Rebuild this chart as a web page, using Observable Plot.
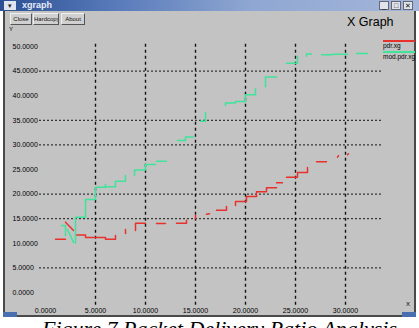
<!DOCTYPE html>
<html>
<head>
<meta charset="utf-8">
<script src="https://cdn.jsdelivr.net/npm/d3@7"></script>
<script src="https://cdn.jsdelivr.net/npm/@observablehq/plot@0.6"></script>
<style>
  html, body { margin:0; padding:0; }
  body { width:419px; height:328px; overflow:hidden; background:#fff; position:relative; font-family:"Liberation Sans", Arial, sans-serif; }
  #win { position:absolute; left:3px; top:0; width:413px; height:317px; background:#c3c3c3; border-left:2px solid #4a4a4a; border-right:2px solid #4a4a4a; border-bottom:2px solid #4a4a4a; box-sizing:border-box; }
  #corner1 { position:absolute; left:3px; top:312px; width:14px; height:5px; background:#4a6fb0; }
  #corner2 { position:absolute; left:402px; top:312px; width:14px; height:5px; background:#4a6fb0; }
  #titlebar { position:absolute; left:0; top:0; width:419px; height:11px; background:linear-gradient(to right,#2c4f93 0%,#5477b8 25%,#8fa7d2 60%,#a4b6da 100%); }
  #titlebar .icon { position:absolute; left:4px; top:1px; width:12px; height:9px; background:#dfe4ef; font-size:7px; line-height:9px; text-align:center; color:#223; }
  #titlebar .name { position:absolute; left:22px; top:0px; font-size:9px; line-height:11px; color:#e8ecf6; font-weight:bold; }
  .wbtn { position:absolute; top:1px; width:10px; height:9px; background:#dfe3ea; border:1px solid #667; box-sizing:border-box; font-size:7px; line-height:7px; text-align:center; color:#111; }
  .btn { position:absolute; top:13px; height:12px; background:#d0d0d0; border-top:1px solid #f0f0f0; border-left:1px solid #f0f0f0; border-right:1px solid #555; border-bottom:1px solid #555; box-sizing:border-box; font-size:6px; line-height:10px; text-align:center; color:#111; overflow:hidden; white-space:nowrap; }
  #gtitle { position:absolute; left:347px; top:15px; font-size:12.5px; color:#000; }
  #ylab { position:absolute; left:9px; top:26px; font-size:6px; color:#000; }
  #xlab { position:absolute; left:406px; top:301px; font-size:6px; color:#000; }
  .leg { position:absolute; left:383px; width:32px; height:1.5px; }
  .legt { position:absolute; left:383px; font-size:6.5px; color:#000; line-height:7px; }
  #caption { position:absolute; left:42px; top:318px; font-family:"Liberation Serif", serif; font-style:italic; font-size:22px; line-height:22px; color:#000; white-space:nowrap; }
  #chart { position:absolute; left:0; top:0; }
</style>
</head>
<body>
<div id="win"></div>
<div id="corner1"></div><div id="corner2"></div>
<div id="titlebar"><div class="icon">▾</div><div class="name">xgraph</div>
  <div class="wbtn" style="left:379px">_</div><div class="wbtn" style="left:391px">□</div><div class="wbtn" style="left:403px">✕</div>
</div>
<div class="btn" style="left:10px;width:22px">Close</div>
<div class="btn" style="left:33px;width:26px">Hardcopy</div>
<div class="btn" style="left:61px;width:24px">About</div>
<div id="gtitle">X Graph</div>
<div id="ylab">Y</div>
<div id="xlab">X</div>
<div id="chart"></div>
<div class="leg" style="top:40px;background:#e8302c"></div>
<div class="legt" id="leg0" style="top:42px"></div>
<div class="leg" style="top:51px;background:#3fe39a"></div>
<div class="legt" id="leg1" style="top:53px"></div>
<div id="caption">Figure 7 Packet Delivery Ratio Analysis</div>
<script>
// ---- data (null = gap in the trace) ----
const seriesNames = ["pdr.xg", "mod.pdr.xg"];
const seriesColors = ["#e8302c", "#3fe39a"];

const pdrX = [1, 2, null, 2, 2.8, null, 3, 4, 4, 6, 6, 7, 7, null, 8, 8, null, 9, 9, 10, null, 11.1, 12, null,
  13.1, 14.1, 14.1, null, 15, 15, null, 16.1, 16.4, null, 17.1, 18.1, 18.1, null,
  19, 19, 20.1, 20.1, 21.1, 21.1, 22.1, 22.1, 23.1, null, 23.1, 23.7, null,
  24.1, 25.2, 25.2, 26.2, 26.2, null, 27.1, 28.1, null, 29.2, 29.3, null, 30.2, 30.3];
const pdrY = [10.8, 10.8, null, 14.3, 12.6, null, 11.7, 11.7, 11.2, 11.2, 10.8, 10.8, 11.6, null, 12.8, 12.0, null, 12.6, 14.1, 14.1, null, 14.0, 14.0, null,
  14.1, 14.1, 14.7, null, 15.0, 15.7, null, 15.9, 16.0, null, 16.7, 16.7, 17.5, null,
  17.7, 18.5, 18.5, 19.5, 19.5, 20.5, 20.5, 21.3, 21.3, null, 22.3, 22.3, null,
  23.4, 23.4, 24.4, 24.4, 25.4, null, 26.6, 26.6, null, 27.5, 27.8, null, 28.0, 28.2];

const modX = [1.6, 2, 2, null, 2.2, 2.8, null, 3, 3, 4, 4, 5, 5, 6, 6, 6, 7, 7, 8, 8, null,
  8.9, 8.9, 10, 10, 11, null, 11.1, 12.1, null, 13.2, 14, 14, 14.8, null, 15.5, 16, 16, null,
  18, 18, 19, 19, 20, 20, 21, 21, null, 22, 22, 23.1, null, 24.1, 25.2, 25.2, null,
  26.1, 26.1, 26.6, null, 27.6, 28.7, 28.7, 30.2, null, 31.1, 32.2];
const modY = [13.6, 13.6, 11.6, null, 12.8, 10.2, null, 10.0, 15.3, 15.3, 18.9, 18.9, 21.4, 21.4, 22.0, 21.5, 21.5, 22.6, 22.6, 23.8, null,
  23.8, 24.9, 24.9, 26.0, 26.0, null, 26.7, 26.7, null, 30.9, 30.9, 31.6, 31.6, null, 34.8, 34.8, 36.6, null,
  38.0, 38.5, 38.5, 38.8, 38.8, 40.2, 40.2, 41.4, null, 41.8, 43.8, 43.8, null, 46.6, 46.6, 48.0, null,
  48.0, 48.5, 48.5, null, 48.3, 48.3, 48.4, 48.4, null, 48.6, 48.6];

const xTicks = [0, 5, 10, 15, 20, 25, 30];
const yTicks = [0, 5, 10, 15, 20, 25, 30, 35, 40, 45, 50];
const xGrid = [5, 10, 15, 20, 25, 30];
const yGrid = [5, 15, 20, 30, 35, 45];

// ---- build rows ----
const toRows = (X, Y) => X.map((x, i) => ({x: x == null ? NaN : x, y: Y[i] == null ? NaN : Y[i]}));
const pdrRows = toRows(pdrX, pdrY);
const modRows = toRows(modX, modY);

document.getElementById("leg0").textContent = seriesNames[0];
document.getElementById("leg1").textContent = seriesNames[1];

const chart = Plot.plot({
  width: 419,
  height: 316,
  marginLeft: 45,
  marginRight: 36,
  marginTop: 46,
  marginBottom: 24,
  x: {domain: [0, 33.8], axis: null},
  y: {domain: [0, 50], axis: null},
  style: {background: "transparent", fontFamily: "Liberation Sans, Arial, sans-serif", fontSize: "7px", color: "#000", overflow: "visible"},
  marks: [
    Plot.ruleY(yGrid, {y: d => d, x1: () => -0.6, x2: () => 33.8, stroke: "#000", strokeWidth: 1, strokeDasharray: "2,2", strokeOpacity: 0.9}),
    Plot.ruleX(xGrid, {x: d => d, y1: () => -2.6, y2: () => 51.0, stroke: "#000", strokeWidth: 1.4, strokeDasharray: "3,3", strokeOpacity: 0.9}),
    Plot.text(yTicks, {y: d => d, text: d => d.toFixed(4), frameAnchor: "left", dx: -33, textAnchor: "start", fill: "#000"}),
    Plot.text(xTicks, {x: d => d, text: d => d.toFixed(4), frameAnchor: "bottom", dy: 20, fill: "#000"}),
    Plot.line(pdrRows, {x: "x", y: "y", stroke: seriesColors[0], strokeWidth: 1.5}),
    Plot.line(modRows, {x: "x", y: "y", stroke: seriesColors[1], strokeWidth: 1.5})
  ]
});
document.getElementById("chart").appendChild(chart);
</script>
</body>
</html>
